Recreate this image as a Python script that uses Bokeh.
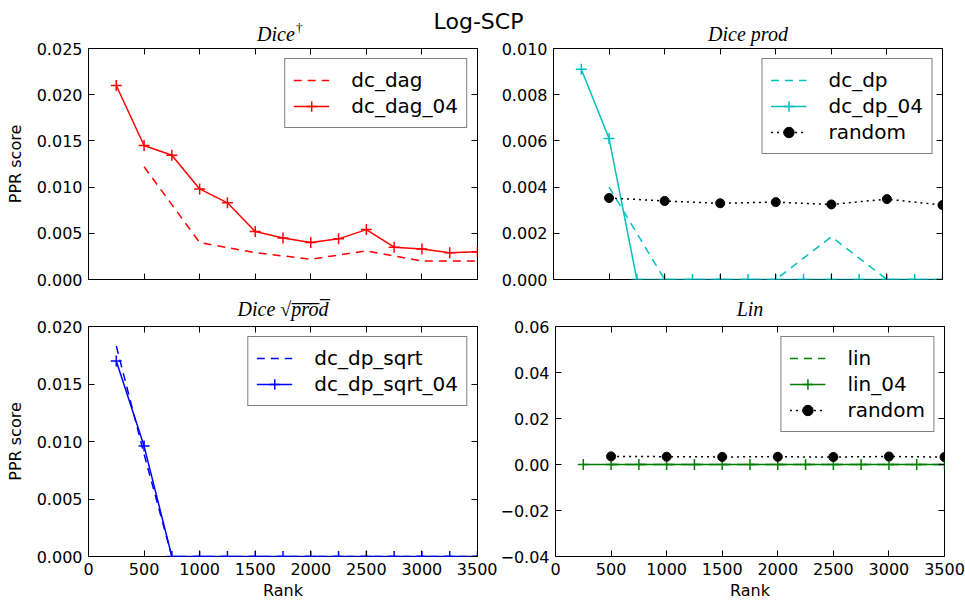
from bokeh.plotting import figure
from bokeh.models import (Range1d, FixedTicker, LinearAxis, Label, CustomJSTickFormatter,
                          CustomLabelingPolicy)
from bokeh.layouts import column, row
from bokeh.embed import file_html
from bokeh.resources import INLINE

# ---------------- data ----------------
rank_250 = [250, 500, 750, 1000, 1250, 1500, 1750, 2000, 2250, 2500, 2750, 3000, 3250, 3500]
rank_500 = [500, 1000, 1500, 2000, 2500, 3000, 3500]

dc_dag = [0.0122, 0.0040, 0.0029, 0.0022, 0.0031, 0.0020, 0.0020]
dc_dag_04 = [0.0210, 0.0145, 0.01345, 0.0098, 0.0083, 0.0052, 0.0045, 0.0040,
             0.0044, 0.0054, 0.0035, 0.0033, 0.0029, 0.0030]

dc_dp = [0.0040, 0.0, 0.0, 0.0, 0.00185, 0.0, 0.0]
dc_dp_04 = [0.0091, 0.0061, 0.0, 0.0, 0.0, 0.0, 0.0, 0.0, 0.0, 0.0, 0.0, 0.0, 0.0, 0.0]

random_score = [0.00353, 0.0034, 0.0033, 0.00335, 0.00325, 0.00348, 0.00322]

dc_dp_sqrt = [0.0183, 0.0089, 0.0, 0.0, 0.0, 0.0, 0.0, 0.0, 0.0, 0.0, 0.0, 0.0, 0.0, 0.0]
dc_dp_sqrt_04 = [0.0170, 0.0096, 0.0, 0.0, 0.0, 0.0, 0.0, 0.0, 0.0, 0.0, 0.0, 0.0, 0.0, 0.0]

lin = [0.0, 0.0, 0.0, 0.0, 0.0, 0.0, 0.0]
lin_04 = [0.0, 0.0, 0.0, 0.0, 0.0, 0.0, 0.0, 0.0, 0.0, 0.0, 0.0, 0.0, 0.0, 0.0]

x_ticks = [0, 500, 1000, 1500, 2000, 2500, 3000, 3500]
x_tick_labels = ["0", "500", "1000", "1500", "2000", "2500", "3000", "3500"]

tl_yticks = [0.0, 0.005, 0.010, 0.015, 0.020, 0.025]
tl_ytick_labels = ["0.000", "0.005", "0.010", "0.015", "0.020", "0.025"]
tr_yticks = [0.0, 0.002, 0.004, 0.006, 0.008, 0.010]
tr_ytick_labels = ["0.000", "0.002", "0.004", "0.006", "0.008", "0.010"]
bl_yticks = [0.0, 0.005, 0.010, 0.015, 0.020]
bl_ytick_labels = ["0.000", "0.005", "0.010", "0.015", "0.020"]
br_yticks = [-0.04, -0.02, 0.0, 0.02, 0.04, 0.06]
br_ytick_labels = ["\u22120.04", "\u22120.02", "0.00", "0.02", "0.04", "0.06"]

main_title = "Log-SCP"
titles = ["Dice", "Dice prod", "Dice \u221ap\u0305r\u0305o\u0305d\u0305", "Lin"]

# ---------------- layout sizes ----------------
FW = 389
L_LEFT, L_RIGHT = 88, 20
R_LEFT, R_RIGHT = 56, 23
HEADER_H = 48
OVERLAP = 10
TOP_T, FH_TOP, TOP_B = OVERLAP, 231, 12
BOT_T, FH_BOT, BOT_B = 35, 230, 47

TICK_FONT = "DejaVu Sans"


def label_formatter(ticks, labels):
    return CustomJSTickFormatter(
        args=dict(tv=ticks, tl=labels),
        code="""
        for (let i = 0; i < tv.length; i++) {
            if (Math.abs(tv[i] - tick) < 1e-9) return tl[i];
        }
        return "";
        """)


def style_axis(ax, show_labels):
    ax.major_tick_in = 6
    ax.major_tick_out = 0
    ax.minor_tick_in = 0
    ax.minor_tick_out = 0
    ax.major_tick_line_color = "black"
    ax.major_tick_line_width = 1
    ax.axis_line_color = None
    ax.major_label_text_font = TICK_FONT
    ax.major_label_text_color = "black"
    ax.axis_label_text_color = "black"
    if show_labels:
        ax.major_label_text_font_size = "16px"
        ax.major_label_standoff = 6
    else:
        ax.major_label_text_font_size = "1px"
        ax.major_label_standoff = 0
        ax.major_label_policy = CustomLabelingPolicy(code="return [];")


def make_fig(left, right, top, bottom, fh, yr, yticks, ylabels, show_x, ylabel, title=None):
    p = figure(frame_width=FW, frame_height=fh,
               x_range=Range1d(0, 3500), y_range=Range1d(*yr),
               toolbar_location=None, tools="", output_backend="svg",
               min_border_left=left, min_border_right=right,
               min_border_top=top, min_border_bottom=bottom)
    p.grid.visible = False
    p.outline_line_color = "black"
    p.outline_line_width = 1
    p.background_fill_color = "white"
    p.border_fill_color = "white"

    xa = p.xaxis[0]
    xa.ticker = FixedTicker(ticks=x_ticks)
    xa.formatter = label_formatter(x_ticks, x_tick_labels)
    style_axis(xa, show_x)
    if show_x:
        xa.axis_label = "Rank"
        xa.axis_label_text_font = TICK_FONT
        xa.axis_label_text_font_size = "16px"
        xa.axis_label_text_font_style = "normal"
        xa.axis_label_standoff = 3

    ya = p.yaxis[0]
    ya.ticker = FixedTicker(ticks=yticks)
    ya.formatter = label_formatter(yticks, ylabels)
    style_axis(ya, True)
    if ylabel:
        ya.axis_label = ylabel
        ya.axis_label_text_font = TICK_FONT
        ya.axis_label_text_font_size = "16px"
        ya.axis_label_text_font_style = "normal"
        ya.axis_label_standoff = 9

    top_ax = LinearAxis(ticker=FixedTicker(ticks=x_ticks))
    style_axis(top_ax, False)
    p.add_layout(top_ax, "above")
    right_ax = LinearAxis(ticker=FixedTicker(ticks=yticks))
    style_axis(right_ax, False)
    p.add_layout(right_ax, "right")

    if title is not None:
        p.title.text = title
        p.title.text_font = "Liberation Serif"
        p.title.text_font_style = "italic"
        p.title.text_font_size = "20px"
        p.title.align = "center"
        p.title.standoff = 6
        p.title.text_color = "black"
    return p


def style_legend(p):
    lg = p.legend[0]
    lg.location = "top_right"
    lg.label_text_font = TICK_FONT
    lg.label_text_font_size = "20px"
    lg.label_text_color = "black"
    lg.glyph_width = 36
    lg.glyph_height = 26
    lg.label_height = 26
    lg.spacing = 0
    lg.padding = 8
    lg.margin = 10
    lg.label_standoff = 22
    lg.border_line_color = "black"
    lg.border_line_width = 1
    lg.background_fill_color = "white"
    lg.background_fill_alpha = 1.0


DASH = "8 6"
DOT = "2 4"
LW = 1.5

# ---------------- top-left ----------------
tl = make_fig(L_LEFT, L_RIGHT, TOP_T, TOP_B, FH_TOP, (0, 0.025), tl_yticks, tl_ytick_labels,
              False, "PPR score")
tl.line(rank_500, dc_dag, line_color="red", line_dash=DASH, line_width=LW, legend_label="dc_dag")
tl.line(rank_250, dc_dag_04, line_color="red", line_width=LW, legend_label="dc_dag_04")
tl.scatter(rank_250, dc_dag_04, marker="cross", size=11, line_color="red", line_width=LW,
           legend_label="dc_dag_04")
style_legend(tl)

# ---------------- top-right ----------------
CYAN = "#00bfbf"
tr = make_fig(R_LEFT, R_RIGHT, TOP_T, TOP_B, FH_TOP, (0, 0.010), tr_yticks, tr_ytick_labels,
              False, None)
tr.line(rank_500, dc_dp, line_color=CYAN, line_dash=DASH, line_width=LW, legend_label="dc_dp")
tr.line(rank_250, dc_dp_04, line_color=CYAN, line_width=LW, legend_label="dc_dp_04")
tr.scatter(rank_250, dc_dp_04, marker="cross", size=11, line_color=CYAN, line_width=LW,
           legend_label="dc_dp_04")
tr.line(rank_500, random_score, line_color="black", line_dash=DOT, line_width=LW, legend_label="random")
tr.scatter(rank_500, random_score, marker="circle", size=9, fill_color="black", line_color="black",
           legend_label="random")
style_legend(tr)

# top-row canvases are transparent outside the frame so the header titles show through
for f in (tl, tr):
    f.border_fill_alpha = 0.0

# ---------------- bottom-left ----------------
bl = make_fig(L_LEFT, L_RIGHT, BOT_T, BOT_B, FH_BOT, (0, 0.020), bl_yticks, bl_ytick_labels,
              True, "PPR score", titles[2])
bl.line(rank_250, dc_dp_sqrt, line_color="blue", line_dash=DASH, line_width=LW, legend_label="dc_dp_sqrt")
bl.line(rank_250, dc_dp_sqrt_04, line_color="blue", line_width=LW, legend_label="dc_dp_sqrt_04")
bl.scatter(rank_250, dc_dp_sqrt_04, marker="cross", size=11, line_color="blue", line_width=LW,
           legend_label="dc_dp_sqrt_04")
style_legend(bl)

# ---------------- bottom-right ----------------
GREEN = "#008000"
br = make_fig(R_LEFT, R_RIGHT, BOT_T, BOT_B, FH_BOT, (-0.04, 0.06), br_yticks, br_ytick_labels,
              True, None, titles[3])
br.line(rank_500, lin, line_color=GREEN, line_dash=DASH, line_width=LW, legend_label="lin")
br.line(rank_250, lin_04, line_color=GREEN, line_width=LW, legend_label="lin_04")
br.scatter(rank_250, lin_04, marker="cross", size=11, line_color=GREEN, line_width=LW,
           legend_label="lin_04")
br.line(rank_500, random_score, line_color="black", line_dash=DOT, line_width=LW, legend_label="random")
br.scatter(rank_500, random_score, marker="circle", size=9, fill_color="black", line_color="black",
           legend_label="random")
style_legend(br)

# ---------------- header with main and top titles ----------------
W_TOTAL = L_LEFT + FW + L_RIGHT + R_LEFT + FW + R_RIGHT
hdr = figure(width=W_TOTAL, height=HEADER_H, x_range=Range1d(0, W_TOTAL), y_range=Range1d(HEADER_H, 0),
             x_axis_location=None, y_axis_location=None, toolbar_location=None, tools="",
             output_backend="svg", min_border=0, outline_line_color=None, title_location=None)
hdr.grid.visible = False
TL_CX = L_LEFT + FW / 2
TR_CX = L_LEFT + FW + L_RIGHT + R_LEFT + FW / 2
hdr.add_layout(Label(x=478, y=21, text=main_title, text_align="center", text_baseline="middle",
                     text_font=TICK_FONT, text_font_size="22px", text_color="black"))
hdr.add_layout(Label(x=TL_CX - 7, y=33, text=titles[0], text_align="center", text_baseline="middle",
                     text_font="Liberation Serif", text_font_style="italic", text_font_size="20px",
                     text_color="black"))
hdr.add_layout(Label(x=TL_CX + 13, y=27, text="\u2020", text_align="left", text_baseline="middle",
                     text_font="Liberation Serif", text_font_size="13px", text_color="black"))
hdr.add_layout(Label(x=TR_CX, y=33, text=titles[1], text_align="center",
                     text_baseline="middle", text_font="Liberation Serif", text_font_style="italic",
                     text_font_size="20px", text_color="black"))

top_row = row(tl, tr, margin=(-OVERLAP, 0, 0, 0))
layout = column(hdr, top_row, row(bl, br))

open("out.html", "w").write(file_html(layout, INLINE))
